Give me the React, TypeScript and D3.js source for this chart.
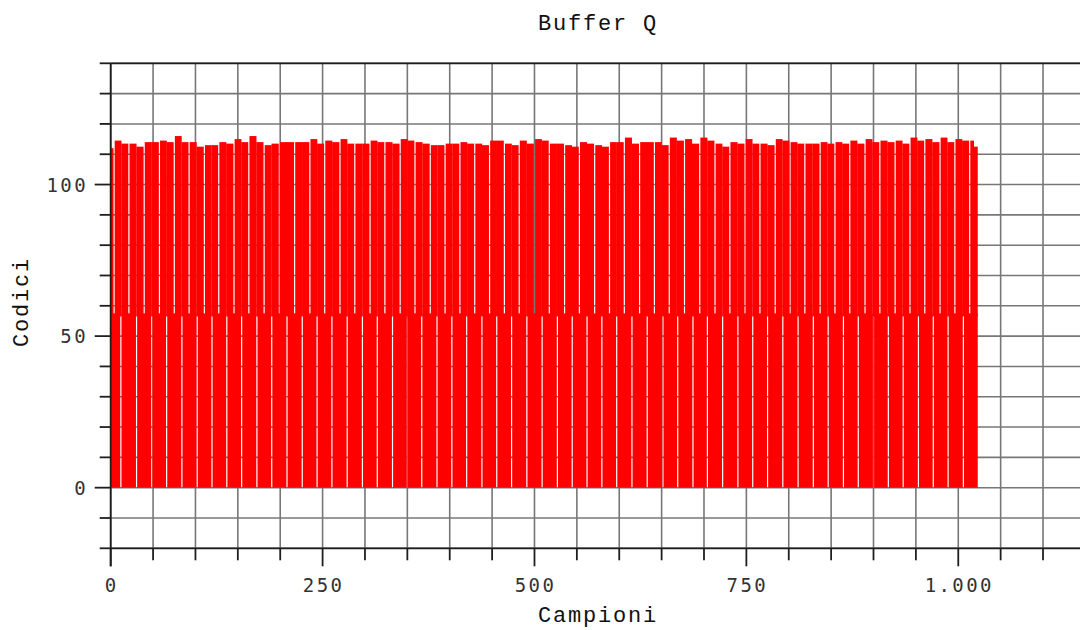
import React from 'react';
import * as d3 from 'd3';

// overall size and plot frame (pixels)
const svgWidth = 1080;
const svgHeight = 630;
const plotLeft = 110.7;
const plotRight = 1085.4; // frame runs a little past the window edge
const plotTop = 63.3;
const plotBottom = 548.3;

const gridColor = '#777777';
const axisColor = '#1e1e1e';
const barColor = '#ff0000';
const titleFont = '"Liberation Mono", "Courier New", monospace';
const tickFont = '"DejaVu Sans Mono", "Liberation Mono", monospace';

// axis domains and labelled ticks
const xDomain = [0, 1150];
const yDomain = [-20, 140];
const xLabelTicks = [0, 250, 500, 750, 1000];
const xLabelTexts = ['0', '250', '500', '750', '1.000'];
const yLabelTicks = [0, 50, 100];
const yLabelTexts = ['0', '50', '100'];

// buffer: 1024 samples, codes swing between 0 and the peak level
const sampleCount = 1024;
const midCode = 57;

// sample positions where the lower band (0..57) opens a white gap
const lowerGaps = [
  12, 30.5, 48.5, 66, 84, 102, 119.5, 137, 154.5, 172.5, 190, 208, 226, 243.5, 261,
  279, 297, 314.5, 332.5, 350, 367, 385, 402.5, 420, 438, 455.5, 473, 491, 509, 527,
  544.5, 562, 579.5, 597, 615, 633, 651.5, 669, 687, 704, 722, 740, 757.5, 775, 793,
  811, 829, 846.5, 864.5, 882, 900, 917.5, 935, 953, 970.5, 988, 1006,
];

// sample positions where the upper band (57..peak) opens a white gap
const upperGaps = [
  4, 21.5, 39.5, 57.5, 75, 92.5, 110.5, 127.5, 145.5, 163, 181, 199, 217, 235, 252.5,
  270.5, 288, 306, 323.5, 341.5, 359, 377, 394.5, 412, 429.5, 447, 464.5, 482, 500,
  517.5, 535.5, 553, 571, 588.5, 606, 624, 641.5, 659, 677, 695, 713, 730.5, 748.5,
  766, 784, 801.5, 819, 837, 854.5, 872, 890, 907.5, 925.5, 943, 960.5, 978.5, 996,
  1013.5,
];

// peak codes, two per upper block (first half, second half)
const peakCodes = [
  112, 112, 114.5, 113.5, 113.5, 112.5, 114, 114, 114.5, 114, 116, 114, 114, 112.5,
  113, 113, 114, 113.5, 115, 114, 116, 114, 113, 113.5, 114, 114, 114, 114,
  115, 113.5, 114.5, 114, 115, 113.5, 113.5, 113.5, 114.5, 114, 114, 113.5,
  115, 114.5, 114, 113.5, 113, 113, 113.5, 113.5, 114, 113.5, 113.5, 113,
  114.5, 114.5, 113.5, 113, 114.5, 113.5, 115, 114.5, 113.5, 113.5, 113, 112.5,
  114, 113.5, 113, 112.5, 114, 114, 115.5, 113.5, 114, 114, 114, 113,
  115.5, 114.5, 115, 113.5, 115.5, 114.5, 113.5, 112.5, 114, 113.5, 115, 113.5,
  113.5, 113, 115, 114.5, 114, 113.5, 113.5, 113.5, 114, 113.5, 114, 113.5,
  114.5, 113.5, 115, 114, 114.5, 114, 114.5, 113.5, 115.5, 114.5, 115, 114,
  115.5, 114, 115, 114.5, 114.5, 112.5,
];

const gapWidth = 1.4; // in samples

const xScale = d3.scaleLinear().domain(xDomain).range([plotLeft, plotRight]);
const yScale = d3.scaleLinear().domain(yDomain).range([plotBottom, plotTop]);

// turn gap positions into [start, end] sample spans
const spans = (gaps: number[]) => {
  const edges = [0, ...gaps.flatMap((g) => [g - gapWidth / 2, g + gapWidth / 2]), sampleCount - 1];
  return d3.range(0, edges.length, 2).map((i) => [edges[i], edges[i + 1]]);
};

const App = () => {
  const xGrid = xScale.ticks(23);
  const yGrid = yScale.ticks(16);
  const lowerSpans = spans(lowerGaps);
  const upperSpans = spans(upperGaps);

  return (
    <svg
      width={svgWidth}
      height={svgHeight}
      style={{ position: 'absolute', left: 0, top: 0, background: '#fff' }}
    >
      {/* grid */}
      <g stroke={gridColor} strokeWidth={1.6}>
        {xGrid.map((v) => (
          <line key={'gx' + v} x1={xScale(v)} x2={xScale(v)} y1={plotTop} y2={plotBottom} />
        ))}
        {yGrid.map((v) => (
          <line key={'gy' + v} x1={plotLeft} x2={plotRight} y1={yScale(v)} y2={yScale(v)} />
        ))}
      </g>

      {/* lower band blocks */}
      <g fill={barColor}>
        {lowerSpans.map(([a, b], i) => (
          <rect
            key={'lo' + i}
            x={xScale(a)}
            width={xScale(b) - xScale(a)}
            y={yScale(midCode + 0.5)}
            height={yScale(0) - yScale(midCode + 0.5)}
          />
        ))}
        {/* upper band blocks, two halves each with their own peak */}
        {upperSpans.map(([a, b], i) => {
          const m = (a + b) / 2;
          const base = yScale(midCode - 0.5);
          return (
            <g key={'up' + i}>
              <rect
                x={xScale(a)}
                width={xScale(m) - xScale(a)}
                y={yScale(peakCodes[2 * i])}
                height={base - yScale(peakCodes[2 * i])}
              />
              <rect
                x={xScale(m) - 0.2}
                width={xScale(b) - xScale(m) + 0.2}
                y={yScale(peakCodes[2 * i + 1])}
                height={base - yScale(peakCodes[2 * i + 1])}
              />
            </g>
          );
        })}
      </g>

      {/* axes */}
      <g stroke={axisColor} strokeWidth={1.8}>
        <line x1={plotLeft} x2={plotLeft} y1={plotTop} y2={plotBottom + 18} />
        <line x1={plotLeft} x2={plotRight} y1={plotBottom} y2={plotBottom} />
        <line x1={plotLeft} x2={plotRight} y1={plotTop} y2={plotTop} />
        {yGrid.map((v) => (
          <line
            key={'ty' + v}
            x1={plotLeft - (yLabelTicks.includes(v) ? 16 : 11)}
            x2={plotLeft}
            y1={yScale(v)}
            y2={yScale(v)}
          />
        ))}
        {xGrid.map((v) => (
          <line
            key={'tx' + v}
            x1={xScale(v)}
            x2={xScale(v)}
            y1={plotBottom}
            y2={plotBottom + (xLabelTicks.includes(v) ? 18 : 12)}
          />
        ))}
      </g>

      {/* tick labels */}
      <g fontFamily={tickFont} fontSize={19} fill="#333" letterSpacing={2.4}>
        {yLabelTicks.map((v, i) => (
          <text key={'ly' + v} x={88} y={yScale(v) + 7} textAnchor="end">
            {yLabelTexts[i]}
          </text>
        ))}
        {xLabelTicks.map((v, i) => (
          <text key={'lx' + v} x={xScale(v) + 1} y={592} textAnchor="middle">
            {xLabelTexts[i]}
          </text>
        ))}
      </g>

      {/* titles */}
      <g fontFamily={titleFont} fontSize={22} fill="#111" letterSpacing={1.8}>
        <text x={(plotLeft + plotRight) / 2} y={30} textAnchor="middle">
          Buffer Q
        </text>
        <text x={(plotLeft + plotRight) / 2} y={622} textAnchor="middle">
          Campioni
        </text>
        <text transform="translate(28,302) rotate(-90)" textAnchor="middle">
          Codici
        </text>
      </g>
    </svg>
  );
};

export default App;
